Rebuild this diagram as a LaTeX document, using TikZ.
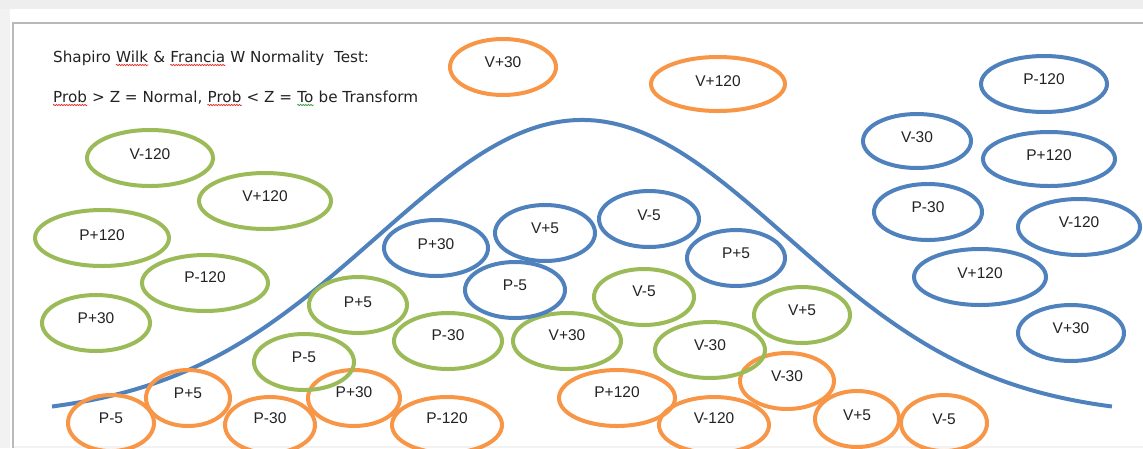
\documentclass[tikz,border=0pt]{standalone}
\usepackage{fontspec}
\setmainfont{Liberation Sans}
\newfontfamily\hdrfont{DejaVu Sans}
\usetikzlibrary{shapes.geometric,decorations.pathmorphing}
\definecolor{cblue}{HTML}{4F81BD}
\definecolor{cgreen}{HTML}{9BBB59}
\definecolor{corange}{HTML}{F79646}
\definecolor{sqred}{HTML}{E0312A}
\definecolor{sqgreen}{HTML}{3A9A3A}
\definecolor{txt}{HTML}{222222}
\tikzset{
  ovl/.style={ellipse, line width=4pt, inner sep=0pt},
  lab/.style={inner sep=0pt, text=txt, font=\fontsize{15.5}{18}\selectfont},
  hdr/.style={inner sep=0pt, anchor=base west, text=txt, font=\hdrfont\fontsize{15.2}{17}\selectfont},
  squig/.style={line width=0.7pt, decorate, decoration={snake, amplitude=0.7pt, segment length=2.6pt}},
  curve/.style={cblue, line width=4pt}
}
\newcommand\myoval[8]{%
  \node[ovl, draw=#2, minimum width={2*#5-4}, minimum height={2*#6-4}] (#1) at (#3,#4) {};
  \node[lab] (#1t) at (#3,#7) {#8};}
\begin{document}
\begin{tikzpicture}[x=1pt,y=-1pt]
\useasboundingbox (0,0) rectangle (1143,448);
\clip (0,0) rectangle (1143,448);
% window frame
\fill[gray!13] (0,0) rectangle (1143,9);
\fill[gray!10] (0,9) rectangle (10,448);
\fill[gray!10] (13,446) rectangle (1143,448);
\draw[gray!55, line width=2pt] (12.5,448) -- (12.5,22.5) -- (1143,22.5);
% header text
\node[hdr] (h1) at (53,62) {Shapiro\ \null};
\node[hdr] (h2) at (h1.base east) {Wilk};
\node[hdr] (h3) at (h2.base east) {\ \&\ \null};
\node[hdr] (h4) at (h3.base east) {Francia};
\node[hdr] (h5) at (h4.base east) {\ W Normality\ \ Test:};
\node[hdr] (k1) at (53,102) {Prob};
\node[hdr] (k2) at (k1.base east) {\ > Z = Normal,\ \null};
\node[hdr] (k3) at (k2.base east) {Prob};
\node[hdr] (k4) at (k3.base east) {\ < Z =\ \null};
\node[hdr] (k5) at (k4.base east) {To};
\node[hdr] (k6) at (k5.base east) {\ be Transform};
\foreach \w in {h2,h4,k1,k3}
  \draw[squig, sqred] ([yshift=-3pt]\w.base west) -- ([yshift=-3pt]\w.base east);
\draw[squig, sqgreen] ([yshift=-3pt]k5.base west) -- ([yshift=-3pt]k5.base east);
% bell curve
\draw[curve] plot[domain=-5.3:5.3, samples=120, smooth] ({582+100*\x}, {417-297*exp(-(\x*\x)/(2*2.05*2.05))});
% orange
\myoval{o1}{corange}{503}{67}{55}{30}{62}{V+30}
\myoval{o2}{corange}{718}{84}{69}{29}{81}{V+120}
\myoval{o3}{corange}{111}{423}{45}{30}{418}{P-5}
\myoval{o4}{corange}{188}{398}{44}{30}{393}{P+5}
\myoval{o5}{corange}{270}{425}{47}{30}{418}{P-30}
\myoval{o6}{corange}{354}{398}{48}{30}{392}{P+30}
\myoval{o7}{corange}{447}{425}{57}{30}{418}{P-120}
\myoval{o8}{corange}{617}{398}{60}{30}{392}{P+120}
\myoval{o9}{corange}{714}{425}{57}{30}{418}{V-120}
\myoval{o10}{corange}{787}{381}{49}{30}{376}{V-30}
\myoval{o11}{corange}{857}{419}{44}{30}{415}{V+5}
\myoval{o12}{corange}{944}{423}{45}{30}{419}{V-5}
% green
\myoval{g1}{cgreen}{150}{158}{65}{30}{154}{V-120}
\myoval{g2}{cgreen}{265}{201}{68}{30}{196}{V+120}
\myoval{g3}{cgreen}{102}{238}{69}{30}{235}{P+120}
\myoval{g4}{cgreen}{205}{283}{65}{30}{277}{P-120}
\myoval{g5}{cgreen}{96}{323}{56}{30}{318}{P+30}
\myoval{g6}{cgreen}{358}{305}{51}{30}{302}{P+5}
\myoval{g7}{cgreen}{304}{362}{52}{30}{357}{P-5}
\myoval{g8}{cgreen}{644}{297}{52}{30}{291}{V-5}
\myoval{g9}{cgreen}{448}{341}{56}{30}{335}{P-30}
\myoval{g10}{cgreen}{567}{341}{56}{30}{335}{V+30}
\myoval{g11}{cgreen}{710}{350}{57}{30}{345}{V-30}
\myoval{g12}{cgreen}{802}{315}{50}{30}{310}{V+5}
% blue
\myoval{b1}{cblue}{436}{248}{54}{30}{244}{P+30}
\myoval{b2}{cblue}{545}{233}{52}{30}{228}{V+5}
\myoval{b3}{cblue}{649}{219}{52}{30}{215}{V-5}
\myoval{b4}{cblue}{736}{258}{51}{30}{253}{P+5}
\myoval{b5}{cblue}{515}{290}{52}{30}{285}{P-5}
\myoval{b6}{cblue}{1044}{84}{65}{30}{79}{P-120}
\myoval{b7}{cblue}{917}{141}{56}{29}{137}{V-30}
\myoval{b8}{cblue}{1049}{159}{68}{29}{155}{P+120}
\myoval{b9}{cblue}{928}{212}{56}{30}{207}{P-30}
\myoval{b10}{cblue}{1079}{227}{63}{30}{222}{V-120}
\myoval{b11}{cblue}{980}{277}{68}{30}{273}{V+120}
\myoval{b12}{cblue}{1071}{333}{55}{30}{328}{V+30}
\end{tikzpicture}
\end{document}
